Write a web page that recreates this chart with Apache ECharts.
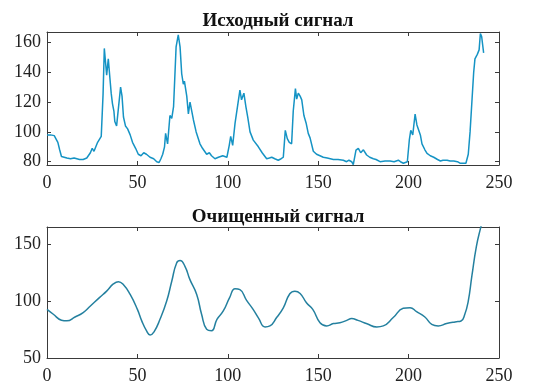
<!DOCTYPE html>
<html>
<head>
<meta charset="utf-8">
<script src="https://cdn.jsdelivr.net/npm/echarts@6/dist/echarts.min.js"></script>
<style>
  html, body { margin: 0; padding: 0; background: #fff; }
  #main { width: 544px; height: 385px; }
</style>
</head>
<body>
<div id="main"></div>
<script>
// исходный сигнал (x, y)
const rawX = [0, 2, 4, 5, 6, 7, 8, 9, 11, 13, 15, 16, 18, 20, 22, 23, 24, 25, 26, 27, 28, 29, 30, 31, 31.7, 32.5, 33, 33.9, 34.8, 35.5, 36.2, 37, 37.5, 38.5, 39.5, 40.7, 41.5, 42.3, 43.4, 44.6, 46, 47.3, 49, 50.5, 52, 53.5, 55, 57, 59, 60.7, 62, 63, 64, 65, 65.6, 66.7, 68, 69, 70, 71.4, 72.6, 73.6, 74.5, 75.4, 76, 77.3, 78.2, 79.1, 81, 82.5, 84.6, 86, 88.3, 89.8, 91, 92.9, 94.8, 96, 97.2, 99.5, 100.8, 101.6, 102.7, 104, 104.9, 106.7, 107.6, 108.9, 110, 111, 112.3, 114.1, 116.9, 119, 121.5, 123, 124.3, 126, 127.9, 129.5, 130.7, 131.8, 132.9, 134, 135.3, 136.2, 137.4, 138.1, 139, 140, 140.9, 142.1, 143.3, 144.5, 145.5, 146.4, 147.3, 149.1, 151, 152.8, 155, 158.4, 161, 163.9, 165.7, 167, 168.5, 169.4, 170.9, 172.2, 173.5, 175, 176.8, 178.5, 180.5, 182, 184.2, 187, 189.7, 192, 194.3, 195.5, 197.1, 199.3, 200.4, 201.2, 202.3, 203.6, 204.6, 205.5, 206.5, 207.4, 209, 210.2, 212, 213.9, 216, 217.6, 219, 221.3, 223, 225, 227, 228.4, 230, 231.7, 233, 234, 235, 236, 236.7, 238, 239, 239.7, 240.4, 241.5];
const rawY = [98, 98, 97.5, 97, 93, 88, 83.5, 82.5, 82.5, 82, 82.5, 83, 81.5, 81.5, 82.5, 82, 86, 89, 87, 90, 93, 92, 97, 125, 156, 145, 138, 149, 136, 126, 119, 114, 107, 104, 105, 130, 124, 110, 104, 102, 98, 93, 89, 85, 84, 86, 85, 83, 82, 80, 79.5, 82, 85, 90, 99, 92, 111, 109, 117, 157, 165, 157, 139, 132, 134, 124, 112, 120, 108, 100, 92, 89, 85, 86, 84, 82, 83, 83.5, 84, 83, 91, 97, 91, 105.7, 104.7, 128, 121.5, 126, 117, 110, 100, 94.5, 90, 86, 82, 82.5, 83, 82, 81, 82, 83, 101, 95.5, 93, 92, 114, 129, 122, 126, 124, 121.5, 111, 106, 99, 96, 95, 87, 85, 84, 83, 82.5, 81.5, 81.5, 81, 80, 81, 80, 78, 87.8, 89, 86, 88, 84.5, 83, 82, 81.5, 80, 80.5, 80.5, 80, 81, 80, 79, 80, 94.6, 101, 98, 112, 104.7, 106, 98, 92, 88, 85.6, 84, 83, 81.5, 80.5, 81, 81, 80.5, 80.5, 80, 79, 79, 79, 85, 100, 120, 140, 149, 152, 155, 166, 164, 153];

// очищенный сигнал
const cleanX = [0, 3.5, 8, 11, 15.5, 20, 24, 29, 33, 36.7, 39.5, 42.2, 46, 50, 52.4, 55, 57, 59.2, 62.5, 66.2, 69, 71.7, 73.6, 76.3, 79, 82.8, 85.5, 88.3, 91, 94, 97.5, 101, 104, 106.7, 110.4, 114, 117, 120.6, 123.3, 127, 130.7, 134.3, 137.1, 140, 143.5, 147, 151, 154.7, 158.4, 162, 165.8, 168.5, 172, 177, 182.4, 186, 191.5, 197, 200.8, 204.4, 209, 212.8, 216.4, 221, 225.7, 229, 231, 233, 235, 237.5, 239.8, 241];
const cleanY = [92.7, 88.4, 83.2, 82.6, 86, 89.8, 95.6, 103, 108.7, 115, 117, 114.5, 105.8, 92.7, 82.6, 74, 70.3, 73, 84, 100, 117.4, 133.4, 135.5, 130.5, 119, 105.8, 88.4, 75.3, 74, 84, 91.3, 103, 110.8, 110, 100.6, 92.7, 85, 77.3, 78.2, 85.5, 94, 106.4, 108.7, 106.7, 98.5, 92.7, 81, 78.2, 80.2, 81, 83, 84.6, 83, 80, 77.3, 78.2, 85.5, 93.6, 94.2, 90.7, 86, 79.6, 78.2, 80.2, 81.7, 82.5, 88, 100, 122, 148, 164, 171];

const xTicks = [0, 50, 100, 150, 200, 250];
const rawTicks = [80, 100, 120, 140, 160];
const cleanTicks = [50, 100, 150];

var myChart = echarts.init(document.getElementById('main'));

const font = 'Liberation Serif';
const axisColor = '#3a3a3a';

function xAx(gi, pos, labels) {
    return {
        type: 'value', gridIndex: gi, position: pos, min: 0, max: 250,
        axisLine: { show: true, onZero: false, lineStyle: { color: axisColor, width: 1 } },
        axisTick: { show: true, inside: true, length: 4, customValues: xTicks, lineStyle: { color: axisColor } },
        axisLabel: { show: labels, customValues: xTicks, margin: 9, fontFamily: font, fontSize: 18, color: '#222' },
        splitLine: { show: false }
    };
}
function yAx(gi, pos, labels, min, max, ticks) {
    return {
        type: 'value', gridIndex: gi, position: pos, min: min, max: max,
        axisLine: { show: true, onZero: false, lineStyle: { color: axisColor, width: 1 } },
        axisTick: { show: true, inside: true, length: 4, customValues: ticks, lineStyle: { color: axisColor } },
        axisLabel: { show: labels, customValues: ticks, margin: 6, fontFamily: font, fontSize: 18, color: '#222' },
        splitLine: { show: false }
    };
}

var option = {
    animation: false,
    backgroundColor: '#fff',
    title: [
        { text: 'Исходный сигнал', left: 273, top: 7, textAlign: 'center',
          textStyle: { fontFamily: font, fontWeight: 'bold', fontSize: 19, color: '#111' } },
        { text: 'Очищенный сигнал', left: 273, top: 203, textAlign: 'center',
          textStyle: { fontFamily: font, fontWeight: 'bold', fontSize: 19, color: '#111' } }
    ],
    grid: [
        { left: 47, right: 45, top: 32, height: 133 },
        { left: 47, right: 45, top: 227, height: 132 }
    ],
    xAxis: [xAx(0, 'bottom', true), xAx(0, 'top', false), xAx(1, 'bottom', true), xAx(1, 'top', false)],
    yAxis: [
        yAx(0, 'left', true, 77.8, 167, rawTicks), yAx(0, 'right', false, 77.8, 167, rawTicks),
        yAx(1, 'left', true, 50, 165, cleanTicks), yAx(1, 'right', false, 50, 165, cleanTicks)
    ],
    series: [
        {
            type: 'line', xAxisIndex: 0, yAxisIndex: 0,
            data: rawX.map((x, i) => [x, rawY[i]]),
            showSymbol: false,
            lineStyle: { color: '#1593c4', width: 1.5 }
        },
        {
            type: 'line', xAxisIndex: 2, yAxisIndex: 2,
            data: cleanX.map((x, i) => [x, cleanY[i]]),
            showSymbol: false, smooth: 0.5,
            lineStyle: { color: '#24809f', width: 1.5 }
        }
    ]
};

myChart.setOption(option);
</script>
</body>
</html>
